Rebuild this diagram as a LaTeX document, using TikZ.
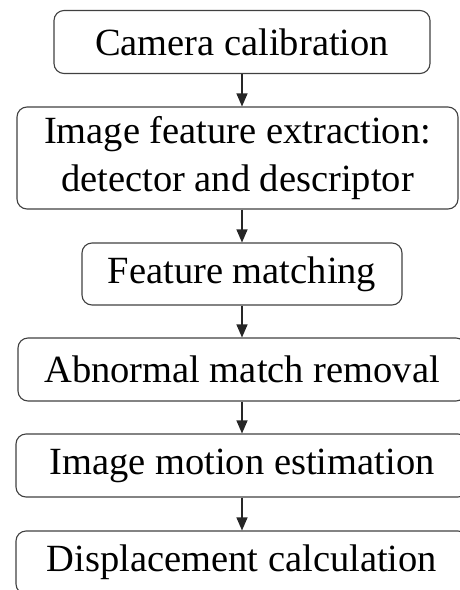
\documentclass[tikz,border=0pt]{standalone}
\usepackage{fontspec}
\setmainfont{Liberation Serif}
\usetikzlibrary{arrows.meta}

\tikzset{
  stage/.style={draw=black!75, line width=1.1pt, rounded corners=10pt, inner sep=0pt,
    align=center, font=\fontsize{38.5}{48}\selectfont},
  flow/.style={draw=black!85, line width=1.1pt, -{Triangle[length=13pt,width=11pt]}}
}

\begin{document}
\begin{tikzpicture}[x=1pt, y=-1pt]
\useasboundingbox (0,0) rectangle (460,590);
\clip (0,0) rectangle (460,590);
% process steps
\node [stage, minimum width=376pt, minimum height=63pt] (calib) at (242,42) {Camera calibration};
\node [stage, minimum width=441pt, minimum height=102pt] (extract) at (237.5,158) {Image feature extraction:\\detector and descriptor};
\node [stage, minimum width=320pt, minimum height=62pt] (match) at (242,274) {Feature matching};
\node [stage, minimum width=448pt, minimum height=63pt] (removal) at (242,369.5) {Abnormal match removal};
\node [stage, minimum width=452pt, minimum height=63pt] (motion) at (242,465.5) {Image motion estimation};
\node [stage, minimum width=452pt, minimum height=63pt] (disp) at (242,562.5) {Displacement calculation};
\coordinate (axis) at (242,0);
% arrows
\draw [flow] (calib.south) -- (extract.north -| axis);
\draw [flow] (extract.south -| axis) -- (match.north);
\draw [flow] (match) -- (removal);
\draw [flow] (removal) -- (motion);
\draw [flow] (motion) -- (disp);
\end{tikzpicture}
\end{document}
